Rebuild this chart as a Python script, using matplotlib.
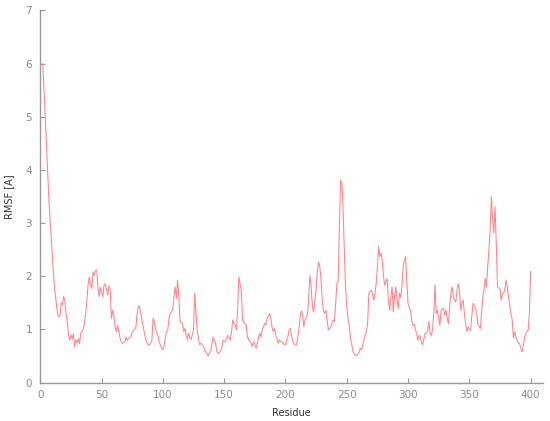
import matplotlib
matplotlib.use("Agg")
import matplotlib.pyplot as plt

residue = list(range(2, 401))
rmsf = [
    6.0, 5.5, 5.0, 4.5, 3.95, 3.45, 3.05, 2.7, 2.3,            # 2-10
    1.95, 1.7, 1.5, 1.3, 1.24, 1.25, 1.5, 1.46, 1.62, 1.55,     # 11-20
    1.3, 1.15, 0.9, 0.8, 0.9, 0.82, 0.92, 0.68, 0.81, 0.75,     # 21-30
    0.83, 0.73, 0.94, 0.96, 1.0, 1.12, 1.3, 1.55, 1.85, 1.99,   # 31-40
    1.85, 1.77, 2.08, 2.02, 2.11, 2.12, 1.8, 1.62, 1.79, 1.7,   # 41-50
    1.62, 1.83, 1.86, 1.75, 1.65, 1.83, 1.74, 1.21, 1.36, 1.27, # 51-60
    1.05, 0.96, 1.08, 0.96, 0.85, 0.77, 0.74, 0.75, 0.77, 0.86, # 61-70
    0.8, 0.83, 0.85, 0.87, 0.96, 0.98, 1.0, 1.05, 1.3, 1.44,    # 71-80
    1.43, 1.3, 1.15, 1.05, 0.92, 0.82, 0.75, 0.71, 0.71, 0.74,  # 81-90
    0.8, 1.21, 1.15, 1.02, 0.95, 0.88, 0.77, 0.7, 0.65, 0.62,   # 91-100
    0.7, 0.86, 0.96, 0.99, 1.21, 1.3, 1.33, 1.36, 1.62, 1.8,    # 101-110
    1.58, 1.93, 1.62, 1.15, 1.12, 1.12, 0.96, 1.02, 0.9, 0.81,  # 111-120
    0.93, 0.85, 0.81, 0.9, 0.99, 1.68, 1.3, 0.99, 0.84, 0.71,   # 121-130
    0.74, 0.72, 0.68, 0.62, 0.58, 0.55, 0.5, 0.55, 0.62, 0.71,  # 131-140
    0.86, 0.8, 0.74, 0.58, 0.55, 0.56, 0.6, 0.64, 0.8, 0.78,    # 141-150
    0.77, 0.83, 0.89, 0.85, 0.8, 0.96, 1.18, 1.12, 1.08, 0.99,  # 151-160
    1.4, 1.99, 1.85, 1.74, 1.18, 1.15, 1.1, 1.08, 0.86, 0.8,    # 161-170
    0.78, 0.74, 0.68, 0.77, 0.72, 0.65, 0.74, 0.85, 0.93, 0.86, # 171-180
    0.99, 1.05, 1.12, 1.08, 1.21, 1.25, 1.3, 1.24, 1.05, 0.96,  # 181-190
    1.02, 0.9, 0.83, 0.74, 0.8, 0.78, 0.77, 0.74, 0.72, 0.71,   # 191-200
    0.8, 0.87, 0.99, 1.02, 0.9, 0.77, 0.72, 0.71, 0.71, 0.85,   # 201-210
    1.02, 1.24, 1.35, 1.27, 1.05, 1.18, 1.24, 1.27, 1.61, 2.02, # 211-220
    1.8, 1.43, 1.33, 1.55, 1.75, 2.11, 2.27, 2.18, 1.95, 1.55,  # 221-230
    1.35, 1.3, 1.36, 1.18, 0.99, 1.02, 1.05, 1.11, 1.18, 1.15,  # 231-240
    1.5, 1.87, 1.9, 2.93, 3.81, 3.75, 3.3, 2.5, 1.8, 1.45,      # 241-250
    1.2, 1.11, 0.85, 0.72, 0.6, 0.55, 0.52, 0.51, 0.53, 0.57,   # 251-260
    0.65, 0.62, 0.7, 0.8, 0.9, 0.95, 1.1, 1.68, 1.72, 1.74,     # 261-270
    1.68, 1.55, 1.68, 1.86, 2.18, 2.56, 2.37, 2.43, 2.3, 2.0,   # 271-280
    1.83, 1.9, 1.96, 1.55, 1.36, 1.61, 1.8, 1.33, 1.61, 1.8,    # 281-290
    1.58, 1.4, 1.68, 1.6, 1.8, 2.18, 2.3, 2.37, 1.93, 1.49,     # 291-300
    1.42, 1.35, 1.18, 1.08, 1.1, 1.0, 0.93, 0.8, 0.89, 0.86,    # 301-310
    0.75, 0.71, 0.83, 0.93, 0.94, 0.96, 1.15, 0.93, 0.89, 1.0,  # 311-320
    1.3, 1.84, 1.3, 1.36, 1.2, 1.08, 1.36, 1.38, 1.4, 1.27,     # 321-330
    1.36, 1.2, 1.11, 1.43, 1.7, 1.8, 1.6, 1.55, 1.52, 1.74,     # 331-340
    1.86, 1.74, 1.36, 1.49, 1.55, 1.3, 1.1, 0.96, 1.05, 1.0,    # 341-350
    0.99, 1.24, 1.49, 1.46, 1.4, 1.3, 1.11, 1.05, 1.02, 1.3,    # 351-360
    1.6, 1.75, 1.96, 1.8, 2.18, 2.5, 2.87, 3.5, 3.1, 2.81,      # 361-370
    3.31, 2.6, 1.8, 1.78, 1.77, 1.55, 1.68, 1.68, 1.75, 1.93,   # 371-380
    1.8, 1.6, 1.46, 1.3, 1.18, 0.84, 0.96, 0.85, 0.8, 0.74,     # 381-390
    0.74, 0.65, 0.58, 0.68, 0.85, 0.93, 0.96, 0.99, 1.3, 2.09,  # 391-400
]

xticks = [0, 50, 100, 150, 200, 250, 300, 350, 400]
yticks = [0, 1, 2, 3, 4, 5, 6, 7]

fig = plt.figure(figsize=(5.5, 4.21), dpi=100)
ax = fig.add_axes([0.0733, 0.091, 0.9137, 0.8845])
ax.plot(residue, rmsf, color="#ff6470", lw=0.75, alpha=0.8)

ax.set_xlim(0, 410)
ax.set_ylim(0, 7)
ax.set_xticks(xticks)
ax.set_yticks(yticks)

for s in ["top", "right"]:
    ax.spines[s].set_visible(False)
for s in ["left", "bottom"]:
    ax.spines[s].set_color("#999999")
    ax.spines[s].set_linewidth(1.0)

ax.tick_params(axis="both", direction="in", length=3.5, width=0.8,
               color="#999999", labelcolor="#8c8c8c", labelsize=7.5)
ax.tick_params(axis="x", pad=5)
ax.tick_params(axis="y", pad=6)

ax.set_xlabel("Residue", fontsize=7, color="#333333", labelpad=6)
ax.set_ylabel("RMSF [A]", fontsize=7, color="#333333", labelpad=8)

fig.savefig("out.png", dpi=100)
